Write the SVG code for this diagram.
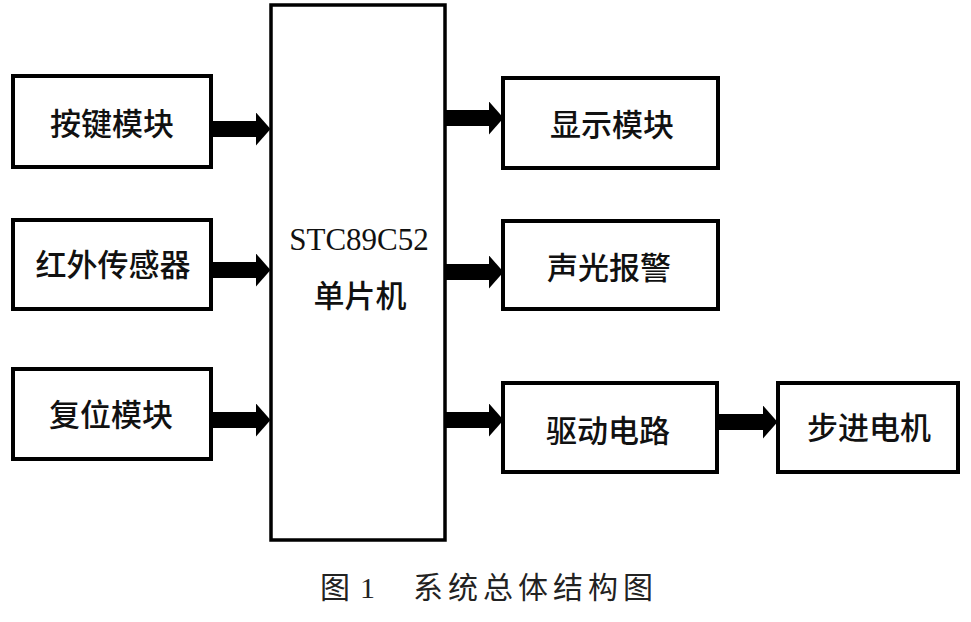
<svg xmlns="http://www.w3.org/2000/svg" width="971" height="622" viewBox="0 0 971 622">
<style>
.box{fill:#fff;stroke:#000;stroke-width:4}
.mcu{fill:#fff;stroke:#000;stroke-width:3.5}
.lbl{font-family:"Noto Sans CJK SC","Noto Sans",sans-serif;font-size:31px;font-weight:500;fill:#111;text-anchor:middle}
.ser{font-family:"Liberation Serif","Noto Sans CJK SC",serif;font-size:31px;fill:#111;text-anchor:middle}
.cap{font-family:"Liberation Serif","Noto Sans CJK SC",serif;font-size:30px;fill:#222}
.con{stroke:#000;stroke-width:16;fill:none;marker-end:url(#ah)}
</style>
<defs>
<marker id="ah" markerUnits="userSpaceOnUse" markerWidth="15" markerHeight="34" viewBox="0 0 15 34" refX="0.5" refY="17" orient="auto">
<path d="M0,0 L15,17 L0,34 Z" fill="#000"/>
</marker>
</defs>
<rect width="971" height="622" fill="#fff"/>
<g id="connectors">
<line class="con" x1="211" y1="129" x2="256" y2="129"/>
<line class="con" x1="211" y1="270" x2="256" y2="270"/>
<line class="con" x1="211" y1="420" x2="256" y2="420"/>
<line class="con" x1="445" y1="118" x2="489" y2="118"/>
<line class="con" x1="445" y1="272" x2="489" y2="272"/>
<line class="con" x1="445" y1="420" x2="489" y2="420"/>
<line class="con" x1="717" y1="422" x2="763" y2="422"/>
</g>
<g id="mcu">
<rect class="mcu" x="271" y="5" width="174" height="535"/>
<text class="ser" x="359" y="250">STC89C52</text>
<text class="lbl" x="360" y="307">单片机</text>
</g>
<g id="key">
<rect class="box" x="13" y="76" width="198" height="91"/>
<text class="lbl" x="112" y="135">按键模块</text>
</g>
<g id="ir">
<rect class="box" x="13" y="220" width="198" height="89"/>
<text class="lbl" x="113" y="276">红外传感器</text>
</g>
<g id="reset">
<rect class="box" x="13" y="369" width="198" height="90"/>
<text class="lbl" x="111" y="426">复位模块</text>
</g>
<g id="display">
<rect class="box" x="503" y="78" width="215" height="90"/>
<text class="lbl" x="612" y="136">显示模块</text>
</g>
<g id="alarm">
<rect class="box" x="503" y="221" width="215" height="88"/>
<text class="lbl" x="609" y="279">声光报警</text>
</g>
<g id="driver">
<rect class="box" x="503" y="383" width="214" height="89"/>
<text class="lbl" x="608" y="442">驱动电路</text>
</g>
<g id="motor">
<rect class="box" x="778" y="383" width="180" height="89"/>
<text class="lbl" x="869" y="439">步进电机</text>
</g>
<g id="caption">
<text class="cap" x="320" y="598">图</text>
<text class="cap" x="360" y="598">1</text>
<text class="cap" x="413" y="598" letter-spacing="5">系统总体结构图</text>
</g>
</svg>
